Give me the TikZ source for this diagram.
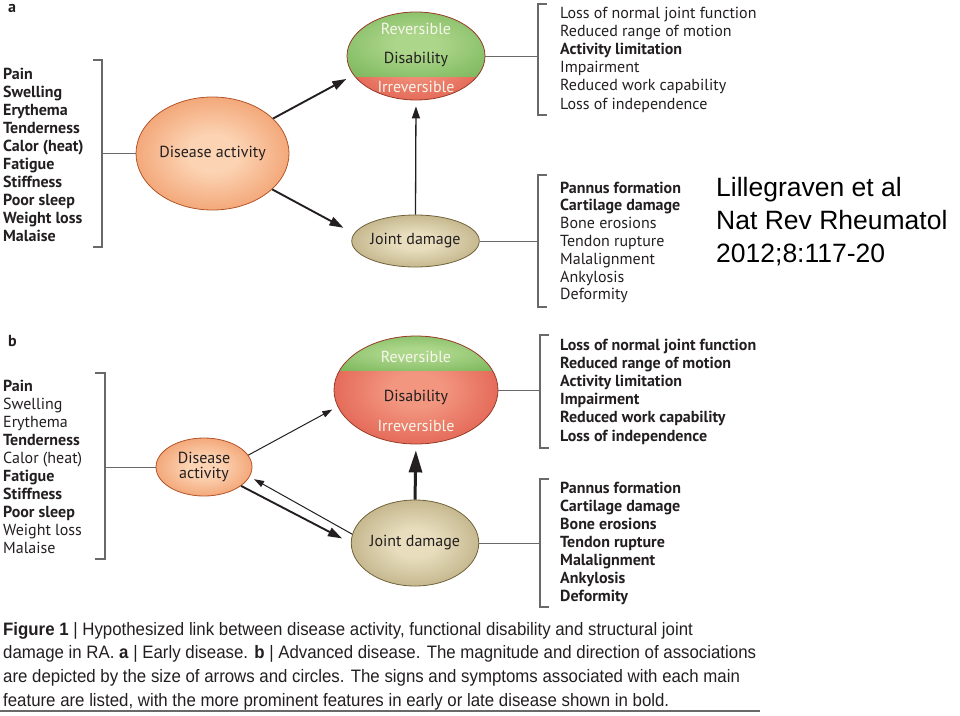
\documentclass[tikz,border=0pt]{standalone}
\usepackage{fontspec}
\setmainfont{PT Sans}
\newfontfamily\capfont[FakeStretch=0.935]{Liberation Sans}
\newfontfamily\citefont{Liberation Sans}
\usetikzlibrary{positioning, arrows.meta, shapes.geometric, calc}

\definecolor{ink}{RGB}{35,31,32}
\definecolor{brk}{RGB}{105,105,105}
\definecolor{orglt}{RGB}{252,212,180}
\definecolor{orgdk}{RGB}{230,104,38}
\definecolor{orgline}{RGB}{180,85,40}
\definecolor{grnlt}{RGB}{172,214,138}
\definecolor{grndk}{RGB}{96,165,66}
\definecolor{redlt}{RGB}{242,150,128}
\definecolor{reddk}{RGB}{210,44,34}
\definecolor{disline}{RGB}{150,62,42}
\definecolor{olvlt}{RGB}{232,222,190}
\definecolor{olvdk}{RGB}{148,130,76}
\definecolor{olvline}{RGB}{112,98,56}
\definecolor{paleink}{RGB}{246,246,236}

\colorlet{glowin}{white}
\colorlet{glowout}{black}
\pgfdeclareradialshading[glowin,glowout]{glow}{\pgfpoint{0bp}{0bp}}{color(0bp)=(glowin); color(8bp)=(glowin); color(50bp)=(glowout)}

\begin{document}
\begin{tikzpicture}[x=1pt, y=-1pt,
  glowfill/.style 2 args={shading=glow, /utils/exec={\colorlet{glowin}{#1}\colorlet{glowout}{#2}}},
  blob/.style={ellipse, inner sep=0pt, text=ink, align=center,
               font=\fontsize{16}{16}\selectfont},
  activity/.style={blob, glowfill={orglt}{orgdk}, draw=orgline, line width=0.8pt},
  joint/.style={blob, glowfill={olvlt}{olvdk}, draw=olvline, line width=0.8pt},
  disab/.style={blob, draw=disline, line width=0.8pt, path picture={
      \shade[glowfill={redlt}{reddk}] (path picture bounding box.south west) rectangle (path picture bounding box.north east);
      \shade[glowfill={grnlt}{grndk}] (path picture bounding box.north west) rectangle ([yshift=-#1]path picture bounding box.north east);}},
  distext/.style={inner sep=0pt, font=\fontsize{16}{16}\selectfont},
  item/.style={anchor=base west, inner sep=0pt, text=ink, font=\fontsize{16}{16}\selectfont},
  tag/.style={anchor=base west, inner sep=0pt, text=ink, font=\fontsize{16}{16}\selectfont\bfseries},
  capline/.style={anchor=base west, inner sep=0pt, text=ink, font=\capfont\fontsize{18}{20}\selectfont},
  citeline/.style={anchor=base west, inner sep=0pt, text=black, font=\citefont\fontsize{26.5}{30}\selectfont},
  brace/.style={draw=brk, line width=1.1pt},
  link/.style={draw=brk, line width=1pt},
  thin/.style={-{Triangle[length=10pt,width=6.5pt]}, line width=1pt, ink},
  mid/.style={-{Triangle[length=14pt,width=9pt]}, line width=1.9pt, ink},
  heavy/.style={-{Triangle[length=22pt,width=13pt]}, line width=3pt, ink},
]
\useasboundingbox (0,0) rectangle (960,715);

% ---- panel a: early disease
\node[tag] (tagA) at (8,12) {a};
\node[activity, minimum width=153pt, minimum height=113pt] (actA) at (212.5,153.5) {Disease activity};
\node[disab=64pt, minimum width=138pt, minimum height=88pt] (disA) at (416,56) {};
\node[distext, text=paleink] (revA) at (416,29) {Reversible};
\node[distext, text=ink] (labA) at (416,59) {Disability};
\node[distext, text=paleink] (irrA) at (416,87) {Irreversible};
\node[joint, minimum width=115pt, minimum height=52pt] (jointA) at (415.5,241) {Joint damage};

\draw[mid, shorten >=8pt] (actA.30) -- (disA.197);
\draw[mid, shorten >=12pt] (actA.-31) -- (jointA.173);
\draw[-{Triangle[length=12pt,width=8pt]}, line width=1.3pt, ink, shorten >=6pt] (jointA.north) -- (disA.south);

\foreach \txt [count=\i] in {Pain, Swelling, Erythema, Tenderness, Calor (heat), Fatigue, Stiffness, Poor sleep, Weight loss, Malaise}
  \node[item, font=\fontsize{16}{16}\selectfont\bfseries] (symA\i) at (3, 79+18.1*\i-18.1) {\txt};
\foreach \txt [count=\i] in {Loss of normal joint function, Reduced range of motion, \textbf{Activity limitation}, Impairment, Reduced work capability, Loss of independence}
  \node[item] (funA\i) at (560, 18+18.2*\i-18.2) {\txt};
\foreach \txt [count=\i] in {\textbf{Pannus formation}, \textbf{Cartilage damage}, Bone erosions, Tendon rupture, Malalignment, Ankylosis, Deformity}
  \node[item] (strA\i) at (560, 193+17.8*\i-17.8) {\txt};

\coordinate (brSymA) at (102,154);
\coordinate (brFunA) at (538,56);
\coordinate (brStrA) at (538,241);
\draw[brace] (93,60) -- (102,60) -- (102,247) -- (93,247);
\draw[brace] (547,4) -- (538,4) -- (538,115) -- (547,115);
\draw[brace] (547,175) -- (538,175) -- (538,307) -- (547,307);
\draw[link] (actA.west) -- (actA.west -| brSymA);
\draw[link] (disA.east) -- (disA.east -| brFunA);
\draw[link] (jointA.east) -- (jointA.east -| brStrA);

% ---- citation
\foreach \txt [count=\i] in {Lillegraven et al, Nat Rev Rheumatol, 2012;8:117-20}
  \node[citeline] (cite\i) at (716, 196+33*\i-33) {\txt};

% ---- panel b: advanced disease
\node[tag] (tagB) at (8,346) {b};
\node[activity, minimum width=96pt, minimum height=58pt] (actB) at (204,467) {Disease\\[-1pt]activity};
\node[disab=34pt, minimum width=164pt, minimum height=108pt] (disB) at (416,390) {};
\node[distext, text=paleink] (revB) at (416,357) {Reversible};
\node[distext, text=ink] (labB) at (416,397) {Disability};
\node[distext, text=paleink] (irrB) at (416,426) {Irreversible};
\node[joint, minimum width=126pt, minimum height=86pt] (jointB) at (415,543) {Joint damage};

\draw[thin, shorten >=6pt] (actB.15) -- (disB.192);
\draw[thin, shorten >=5pt] (jointB.172) -- (actB.-12);
\draw[mid, shorten >=10pt] (actB.-27) -- (jointB.180);
\draw[heavy, shorten >=6pt] (jointB.north) -- (disB.south);

\foreach \txt [count=\i] in {\textbf{Pain}, Swelling, Erythema, \textbf{Tenderness}, Calor (heat), \textbf{Fatigue}, \textbf{Stiffness}, \textbf{Poor sleep}, Weight loss, Malaise}
  \node[item] (symB\i) at (3, 391+18*\i-18) {\txt};
\foreach \txt [count=\i] in {Loss of normal joint function, Reduced range of motion, Activity limitation, Impairment, Reduced work capability, Loss of independence}
  \node[item, font=\fontsize{16}{16}\selectfont\bfseries] (funB\i) at (560, 350+18.2*\i-18.2) {\txt};
\foreach \txt [count=\i] in {Pannus formation, Cartilage damage, Bone erosions, Tendon rupture, Malalignment, Ankylosis, Deformity}
  \node[item, font=\fontsize{16}{16}\selectfont\bfseries] (strB\i) at (560, 493+18*\i-18) {\txt};

\coordinate (brSymB) at (105,467);
\coordinate (brFunB) at (540,390);
\coordinate (brStrB) at (540,543);
\draw[brace] (95,373) -- (105,373) -- (105,559) -- (95,559);
\draw[brace] (549,335) -- (540,335) -- (540,448) -- (549,448);
\draw[brace] (549,479) -- (540,479) -- (540,607) -- (549,607);
\draw[link] (actB.west) -- (actB.west -| brSymB);
\draw[link] (disB.east) -- (disB.east -| brFunB);
\draw[link] (jointB.east) -- (jointB.east -| brStrB);

% ---- caption
\foreach \txt [count=\i] in {{\textbf{Figure 1} | Hypothesized link between disease activity, functional disability and structural joint},
  {damage in RA. \textbf{a} | Early disease. \textbf{b} | Advanced disease. The magnitude and direction of associations},
  {are depicted by the size of arrows and circles. The signs and symptoms associated with each main},
  {feature are listed, with the more prominent features in early or late disease shown in bold.}}
  \node[capline] (cap\i) at (3, 635+23.7*\i-23.7) {\txt};
\draw[brk, line width=1.5pt] (0,711) -- (760,711);
\end{tikzpicture}
\end{document}
